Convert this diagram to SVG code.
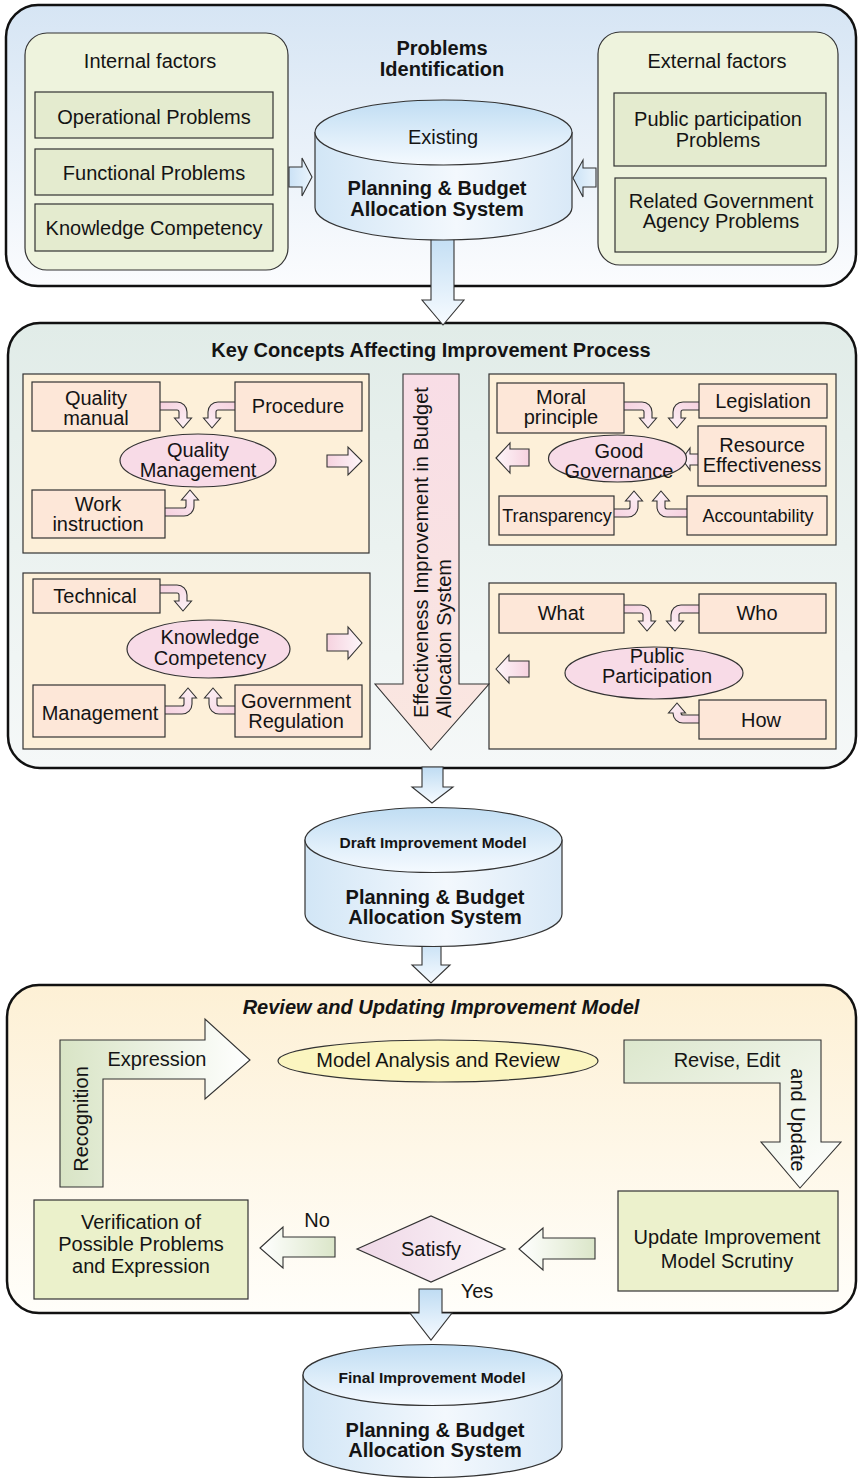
<svg xmlns="http://www.w3.org/2000/svg" xmlns:xlink="http://www.w3.org/1999/xlink" width="860" height="1479" viewBox="0 0 860 1479">
  <style>
    .t { font-family: "Liberation Sans", Arial, Helvetica, sans-serif; font-size: 20px; fill: #141414; text-anchor: middle; }
    .b { font-weight: bold; }
    .bi { font-weight: bold; font-style: italic; }
    .s { font-size: 18px; }
    .xs { font-size: 15.5px; font-weight: bold; }
    .sec { stroke: #111; stroke-width: 2.5; }
    .pnl { stroke: #333; stroke-width: 1.2; }
    .box { stroke: #333; stroke-width: 1.2; }
    .arr { stroke: #333; stroke-width: 1.1; stroke-linejoin: miter; }
    .pbox { fill: #fde7d8; }
    .gbox { fill: #e4ebcf; }
    .ell { fill: #f8dbe7; }
  </style>
  <defs>
    <linearGradient id="gSec1" x1="0" y1="0" x2="0" y2="1"><stop offset="0" stop-color="#d6e5f4"/><stop offset="1" stop-color="#fbfcfe"/></linearGradient>
    <linearGradient id="gSec2" x1="0" y1="0" x2="0" y2="1"><stop offset="0" stop-color="#e1ece8"/><stop offset="1" stop-color="#f5f8f8"/></linearGradient>
    <linearGradient id="gSec3" x1="0" y1="0" x2="0" y2="1"><stop offset="0" stop-color="#fdf0d5"/><stop offset="1" stop-color="#fffefa"/></linearGradient>
    <linearGradient id="gCylTop" x1="0" y1="0" x2="0" y2="1"><stop offset="0" stop-color="#c0ddf3"/><stop offset="1" stop-color="#f5faff"/></linearGradient>
    <linearGradient id="gCylBody" x1="0" y1="0" x2="1" y2="0"><stop offset="0" stop-color="#d2e6f6"/><stop offset="0.55" stop-color="#f3f8fd"/><stop offset="1" stop-color="#d9e9f7"/></linearGradient>
    <linearGradient id="gBlueV" x1="0" y1="0" x2="0" y2="1"><stop offset="0" stop-color="#bfdcf3"/><stop offset="1" stop-color="#f7fbff"/></linearGradient>
    <linearGradient id="gBlueH" x1="0" y1="0" x2="1" y2="0"><stop offset="0" stop-color="#cbe2f6"/><stop offset="1" stop-color="#eaf4fc"/></linearGradient>
    <linearGradient id="gPink" x1="0" y1="0" x2="1" y2="1"><stop offset="0" stop-color="#f5cddc"/><stop offset="1" stop-color="#fdf3f7"/></linearGradient>
    <linearGradient id="gPinkR" x1="0" y1="0" x2="1" y2="0"><stop offset="0" stop-color="#f6d2df"/><stop offset="1" stop-color="#fdf6f9"/></linearGradient>
    <linearGradient id="gPinkL" x1="1" y1="0" x2="0" y2="0"><stop offset="0" stop-color="#f6d2df"/><stop offset="1" stop-color="#fdf6f9"/></linearGradient>
    <linearGradient id="gBig" x1="0" y1="0" x2="0" y2="1"><stop offset="0" stop-color="#f8dde6"/><stop offset="1" stop-color="#fae7e0"/></linearGradient>
    <linearGradient id="gGreenR" x1="0" y1="0" x2="1" y2="0"><stop offset="0" stop-color="#d8e4c5"/><stop offset="1" stop-color="#ffffff"/></linearGradient>
    <linearGradient id="gGreenD" x1="0" y1="0" x2="1" y2="1"><stop offset="0" stop-color="#dce7cd"/><stop offset="1" stop-color="#ffffff"/></linearGradient>
    <linearGradient id="gGreenL" x1="1" y1="0" x2="0" y2="0"><stop offset="0" stop-color="#dbe6c9"/><stop offset="1" stop-color="#ffffff"/></linearGradient>
    <linearGradient id="gDia" x1="0" y1="0" x2="1" y2="0"><stop offset="0" stop-color="#efd8e7"/><stop offset="1" stop-color="#fbf3f7"/></linearGradient>
    <!-- hooked arrow, tip at origin pointing down, fed from the left -->
    <path id="hook" class="arr" fill="url(#gPink)" d="M -30,-26 H -6 A 10 10 0 0 1 4,-16 V -10 H 8.5 L 0,0 L -8.5,-10 H -4 V -16 A 2 2 0 0 0 -6,-18 H -30 Z"/>
    <path id="hookS" class="arr" fill="url(#gPink)" d="M -30,-20 H -6 A 10 10 0 0 1 4,-10 H 8.5 L 0,0 L -8.5,-10 H -4 A 2 2 0 0 0 -6,-12 H -30 Z"/>
  </defs>

  <!-- ===== section frames ===== -->
  <g id="sec-problems"><rect class="sec" x="6" y="5" width="850" height="281" rx="32" fill="url(#gSec1)"/></g>
  <g id="sec-concepts">
    <rect class="sec" x="8" y="323" width="848" height="445" rx="32" fill="url(#gSec2)"/>
    <text class="t b" x="431" y="357">Key Concepts Affecting Improvement Process</text>
  </g>
  <g id="sec-review">
    <rect class="sec" x="7" y="985" width="849" height="328" rx="32" fill="url(#gSec3)"/>
    <text class="t bi" x="441" y="1014">Review and Updating Improvement Model</text>
  </g>

  <!-- ===== panels ===== -->
  <g id="panel-internal">
    <rect class="pnl" x="25" y="33" width="263" height="237" rx="22" fill="#eef3dd"/>
    <text class="t" x="150" y="68">Internal factors</text>
  </g>
  <g id="panel-external">
    <rect class="pnl" x="598" y="32" width="240" height="233" rx="22" fill="#eef3dd"/>
    <text class="t" x="717" y="68">External factors</text>
  </g>
  <g id="title-problems">
    <text class="t b" x="442" y="55">Problems</text>
    <text class="t b" x="442" y="76">Identification</text>
  </g>
  <g id="panel-quality"><rect class="pnl" x="23" y="374" width="346" height="179" fill="#fdf0d9"/></g>
  <g id="panel-governance"><rect class="pnl" x="489" y="374" width="347" height="171" fill="#fdf0d9"/></g>
  <g id="panel-knowledge"><rect class="pnl" x="23" y="573" width="347" height="176" fill="#fdf0d9"/></g>
  <g id="panel-participation"><rect class="pnl" x="489" y="583" width="347" height="166" fill="#fdf0d9"/></g>

  <!-- ===== connectors ===== -->
  <g id="connectors">
    <!-- between sections -->
    <path class="arr" fill="url(#gBlueV)" d="M 431,230 H 454 V 300 H 464 L 443,325 L 422,300 H 431 Z"/>
    <path class="arr" fill="url(#gBlueV)" d="M 422,767 H 443 V 787 H 453 L 432,803 L 412,787 H 422 Z"/>
    <path class="arr" fill="url(#gBlueV)" d="M 422,935 H 441 V 965 H 450 L 431,983 L 412,965 H 422 Z"/>
    <path class="arr" fill="url(#gBlueV)" d="M 419,1289 H 442 V 1313 H 452 L 431,1340 L 410,1313 H 419 Z"/>
    <!-- factors into the existing system -->
    <path class="arr" fill="url(#gBlueH)" d="M 289,167 H 302 V 158 L 312,177 L 302,196 V 187 H 289 Z"/>
    <path class="arr" fill="url(#gBlueH)" d="M 573,178 L 583,160 V 168 H 596 V 187 H 583 V 197 Z"/>
    <!-- quality management -->
    <use xlink:href="#hook" transform="translate(183,428)"/>
    <use xlink:href="#hook" transform="translate(212,428) scale(-1,1)"/>
    <use xlink:href="#hook" transform="translate(190,490) scale(1,-1)"/>
    <path class="arr" fill="url(#gPinkR)" d="M 327,455 H 348 V 447 L 362,461 L 348,475 V 467 H 327 Z"/>
    <!-- good governance -->
    <use xlink:href="#hook" transform="translate(648,428)"/>
    <use xlink:href="#hook" transform="translate(677,428) scale(-1,1)"/>
    <path class="arr" fill="url(#gPinkL)" d="M 682,459 L 690,448 V 454 H 702 V 465 H 690 V 470 Z"/>
    <use xlink:href="#hook" transform="translate(634,491) scale(1,-1)"/>
    <use xlink:href="#hook" transform="translate(661,491) scale(-1,-1)"/>
    <path class="arr" fill="url(#gPinkL)" d="M 496,458 L 510,443 V 449 H 529 V 466 H 510 V 473 Z"/>
    <!-- knowledge competency -->
    <use xlink:href="#hook" transform="translate(183,611)"/>
    <use xlink:href="#hook" transform="translate(188,688) scale(1,-1)"/>
    <use xlink:href="#hook" transform="translate(213,688) scale(-1,-1)"/>
    <path class="arr" fill="url(#gPinkR)" d="M 327,634 H 348 V 627 L 362,643 L 348,659 V 651 H 327 Z"/>
    <!-- public participation -->
    <use xlink:href="#hook" transform="translate(647,631)"/>
    <use xlink:href="#hook" transform="translate(675,631) scale(-1,1)"/>
    <use xlink:href="#hookS" transform="translate(677,703) scale(-1,-1)"/>
    <path class="arr" fill="url(#gPinkL)" d="M 496,669 L 509,655 V 661 H 529 V 677 H 509 V 683 Z"/>
    <!-- review loop -->
    <path class="arr" fill="url(#gGreenL)" d="M 519,1249 L 543,1228 V 1238 H 595 V 1259 H 543 V 1270 Z"/>
    <path class="arr" fill="url(#gGreenL)" d="M 260,1248 L 283,1227 V 1237 H 335 V 1257 H 283 V 1268 Z"/>
    <text class="t" x="317" y="1227">No</text>
    <text class="t" x="477" y="1298">Yes</text>
  </g>

  <!-- ===== section 1 nodes ===== -->
  <g id="n-operational"><rect class="box gbox" x="35" y="92" width="238" height="46"/><text class="t" x="154" y="124">Operational Problems</text></g>
  <g id="n-functional"><rect class="box gbox" x="35" y="149" width="238" height="46"/><text class="t" x="154" y="180">Functional Problems</text></g>
  <g id="n-knowledge-comp"><rect class="box gbox" x="35" y="204" width="238" height="47"/><text class="t" x="154" y="235">Knowledge Competency</text></g>
  <g id="n-public-problems"><rect class="box gbox" x="614" y="93" width="212" height="73"/><text class="t" x="718" y="126">Public participation</text><text class="t" x="718" y="147">Problems</text></g>
  <g id="n-agency-problems"><rect class="box gbox" x="615" y="178" width="211" height="74"/><text class="t" x="721" y="208">Related Government</text><text class="t" x="721" y="228">Agency Problems</text></g>
  <g id="n-existing">
    <path class="box" fill="url(#gCylBody)" d="M 315,132.5 V 207.5 A 128.5 32.5 0 0 0 572,207.5 V 132.5 Z"/>
    <ellipse class="box" cx="443.5" cy="132.5" rx="128.5" ry="32.5" fill="url(#gCylTop)"/>
    <text class="t" x="443" y="144">Existing</text>
    <text class="t b" x="437" y="195">Planning &amp; Budget</text>
    <text class="t b" x="437" y="216">Allocation System</text>
  </g>

  <!-- ===== section 2 nodes ===== -->
  <g id="n-quality-manual"><rect class="box pbox" x="32" y="382" width="128" height="49"/><text class="t" x="96" y="405">Quality</text><text class="t" x="96" y="425">manual</text></g>
  <g id="n-procedure"><rect class="box pbox" x="235" y="382" width="127" height="49"/><text class="t" x="298" y="413">Procedure</text></g>
  <g id="n-work-instruction"><rect class="box pbox" x="32" y="490" width="133" height="48"/><text class="t" x="98" y="511">Work</text><text class="t" x="98" y="531">instruction</text></g>
  <g id="n-quality-mgmt"><ellipse class="box ell" cx="198" cy="460.5" rx="78" ry="26.5"/><text class="t" x="198" y="457">Quality</text><text class="t" x="198" y="477">Management</text></g>

  <g id="n-moral"><rect class="box pbox" x="497" y="383" width="127" height="50"/><text class="t" x="561" y="404">Moral</text><text class="t" x="561" y="424">principle</text></g>
  <g id="n-legislation"><rect class="box pbox" x="699" y="384" width="128" height="34"/><text class="t" x="763" y="408">Legislation</text></g>
  <g id="n-resource"><rect class="box pbox" x="698" y="426" width="128" height="60"/><text class="t" x="762" y="452">Resource</text><text class="t" x="762" y="472">Effectiveness</text></g>
  <g id="n-transparency"><rect class="box pbox" x="499" y="496" width="115" height="39"/><text class="t s" x="557" y="522">Transparency</text></g>
  <g id="n-accountability"><rect class="box pbox" x="687" y="496" width="140" height="39"/><text class="t s" x="758" y="522">Accountability</text></g>
  <g id="n-governance"><ellipse class="box ell" cx="617.5" cy="458.5" rx="69" ry="23.5"/><text class="t" x="619" y="458">Good</text><text class="t" x="619" y="478">Governance</text></g>

  <g id="n-technical"><rect class="box pbox" x="33" y="579" width="127" height="34"/><text class="t" x="95" y="603">Technical</text></g>
  <g id="n-management"><rect class="box pbox" x="33" y="685" width="132" height="52"/><text class="t" x="100" y="720">Management</text></g>
  <g id="n-regulation"><rect class="box pbox" x="235" y="685" width="127" height="52"/><text class="t" x="296" y="708">Government</text><text class="t" x="296" y="728">Regulation</text></g>
  <g id="n-knowledge"><ellipse class="box ell" cx="208.5" cy="649" rx="81.5" ry="29"/><text class="t" x="210" y="644">Knowledge</text><text class="t" x="210" y="665">Competency</text></g>

  <g id="n-what"><rect class="box pbox" x="499" y="594" width="125" height="39"/><text class="t" x="561" y="620">What</text></g>
  <g id="n-who"><rect class="box pbox" x="699" y="594" width="127" height="39"/><text class="t" x="757" y="620">Who</text></g>
  <g id="n-how"><rect class="box pbox" x="699" y="700" width="127" height="39"/><text class="t" x="761" y="727">How</text></g>
  <g id="n-participation"><ellipse class="box ell" cx="654" cy="673" rx="89" ry="26"/><text class="t" x="657" y="663">Public</text><text class="t" x="657" y="683">Participation</text></g>

  <g id="n-effectiveness">
    <path class="arr" fill="url(#gBig)" d="M 403,374 H 459 V 684 H 489 L 431,750 L 375,684 H 403 Z"/>
    <text class="t" style="text-anchor:start" transform="translate(428,718) rotate(-90)">Effectiveness Improvement in Budget</text>
    <text class="t" style="text-anchor:start" transform="translate(451,718) rotate(-90)">Allocation System</text>
  </g>

  <!-- ===== draft model ===== -->
  <g id="n-draft">
    <path class="box" fill="url(#gCylBody)" d="M 305,840 V 914 A 128.5 32.5 0 0 0 562,914 V 840 Z"/>
    <ellipse class="box" cx="433.5" cy="840" rx="128.5" ry="32.5" fill="url(#gCylTop)"/>
    <text class="t xs" x="433" y="848">Draft Improvement Model</text>
    <text class="t b" x="435" y="904">Planning &amp; Budget</text>
    <text class="t b" x="435" y="924">Allocation System</text>
  </g>

  <!-- ===== section 3 nodes ===== -->
  <g id="n-recognition">
    <path class="arr" fill="url(#gGreenR)" d="M 60,1187 V 1040 H 205 V 1019 L 250,1060 L 205,1099 V 1079 H 103 V 1187 Z"/>
    <text class="t" x="157" y="1066">Expression</text>
    <text class="t" transform="translate(88,1119) rotate(-90)">Recognition</text>
  </g>
  <g id="n-analysis"><ellipse class="box" cx="438" cy="1061" rx="160" ry="21" fill="#fbf5c0"/><text class="t" x="438" y="1067">Model Analysis and Review</text></g>
  <g id="n-revise">
    <path class="arr" fill="url(#gGreenD)" d="M 624,1040 H 821 V 1142 H 841 L 800,1188 L 761,1142 H 780 V 1083 H 624 Z"/>
    <text class="t" x="727" y="1067">Revise, Edit</text>
    <text class="t" transform="translate(791,1120) rotate(90)">and Update</text>
  </g>
  <g id="n-update"><rect class="box" x="618" y="1191" width="220" height="100" fill="#ecf1cc"/><text class="t" x="727" y="1244">Update Improvement</text><text class="t" x="727" y="1268">Model Scrutiny</text></g>
  <g id="n-satisfy"><path class="box" fill="url(#gDia)" d="M 357,1249 L 431,1216 L 505,1249 L 431,1282 Z"/><text class="t" x="431" y="1256">Satisfy</text></g>
  <g id="n-verification"><rect class="box" x="34" y="1200" width="214" height="99" fill="#ebf1cb"/><text class="t" x="141" y="1229">Verification of</text><text class="t" x="141" y="1251">Possible Problems</text><text class="t" x="141" y="1273">and Expression</text></g>

  <!-- ===== final model ===== -->
  <g id="n-final">
    <path class="box" fill="url(#gCylBody)" d="M 303,1375 V 1447 A 129.5 30.5 0 0 0 562,1447 V 1375 Z"/>
    <ellipse class="box" cx="432.5" cy="1375" rx="129.5" ry="30.5" fill="url(#gCylTop)"/>
    <text class="t xs" x="432" y="1383">Final Improvement Model</text>
    <text class="t b" x="435" y="1437">Planning &amp; Budget</text>
    <text class="t b" x="435" y="1457">Allocation System</text>
  </g>
</svg>
